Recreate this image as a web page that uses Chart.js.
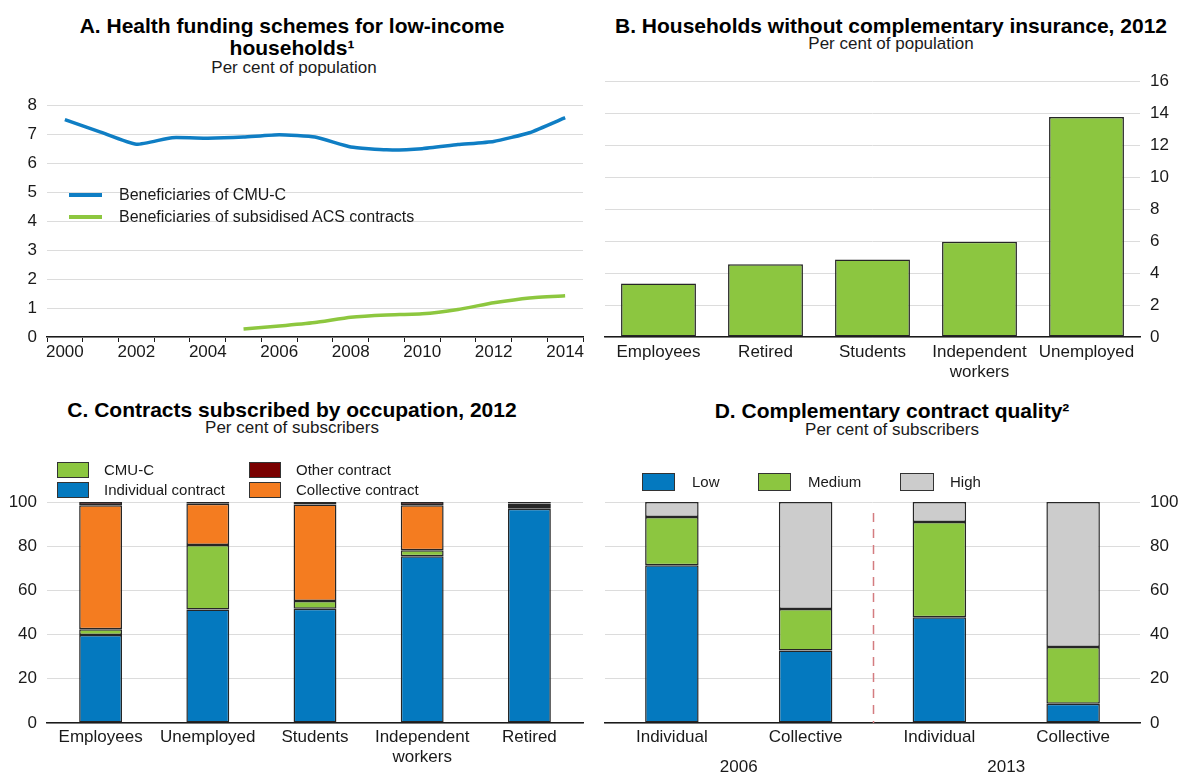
<!doctype html>
<html lang="en">
<head>
<meta charset="utf-8">
<title>Complementary health insurance</title>
<script src="https://cdn.jsdelivr.net/npm/chart.js@4"></script>
<style>
  body { margin: 0; background: #fff; font-family: "Liberation Sans", Arial, sans-serif; color: #111; }
  #page { position: relative; width: 1181px; height: 774px; overflow: hidden; }
  .title { position: absolute; text-align: center; font-weight: bold; font-size: 21px; line-height: 22px; color: #000; }
  .sub { position: absolute; text-align: center; font-size: 17px; line-height: 20px; color: #1a1a1a; }
  canvas { position: absolute; }
  .leg { position: absolute; white-space: nowrap; color: #1a1a1a; }
  .sw { position: absolute; box-sizing: border-box; border: 1px solid #333; }
  .ln { position: absolute; height: 4px; }
</style>
</head>
<body>
<div id="page">
  <div class="title" style="left:0; top:15px; width:584px;">A. Health funding schemes for low-income<br>households¹</div>
  <div class="sub" style="left:0; top:58px; width:588px;">Per cent of population</div>

  <div class="title" style="left:600px; top:15px; width:582px;">B. Households without complementary insurance, 2012</div>
  <div class="sub" style="left:600px; top:34px; width:582px;">Per cent of population</div>

  <div class="title" style="left:0; top:399px; width:584px;">C. Contracts subscribed by occupation, 2012</div>
  <div class="sub" style="left:0; top:418px; width:584px;">Per cent of subscribers</div>

  <div class="title" style="left:600px; top:400px; width:584px;">D. Complementary contract quality²</div>
  <div class="sub" style="left:600px; top:420px; width:584px;">Per cent of subscribers</div>

  <canvas id="chartA" width="600" height="300" style="left:0; top:85px;"></canvas>
  <canvas id="chartB" width="591" height="330" style="left:590px; top:60px;"></canvas>
  <canvas id="chartC" width="600" height="329" style="left:0; top:445px;"></canvas>
  <canvas id="chartD" width="591" height="329" style="left:590px; top:445px;"></canvas>
  <div id="legends"></div>
</div>

<script>
// A. CMU-C and ACS beneficiaries, per cent of population
const years = ['2000', '2001', '2002', '2003', '2004', '2005', '2006', '2007',
  '2008', '2009', '2010', '2011', '2012', '2013', '2014'];
const cmucShare = [7.5, 7.07, 6.65, 6.88, 6.86, 6.9, 6.98, 6.9, 6.56, 6.46, 6.5, 6.64, 6.75, 7.05, 7.57];
const acsShare = [null, null, null, null, null, 0.28, 0.38, 0.5, 0.68, 0.76, 0.8, 0.95, 1.18, 1.35, 1.42];

// B. households without complementary insurance, 2012
const occupationsB = ['Employees', 'Retired', 'Students', ['Independent', 'workers'], 'Unemployed'];
const noInsurance = [3.35, 4.55, 4.85, 5.95, 13.75];

// C. contracts subscribed by occupation, 2012
const occupationsC = ['Employees', 'Unemployed', 'Students', ['Independent', 'workers'], 'Retired'];
const individualContract = [39.8, 51.4, 51.7, 75.5, 97.0];
const cmucContract = [2.6, 29.1, 3.5, 2.7, 1.2];
const collectiveContract = [56.1, 18.7, 43.7, 20.3, 1.1];
const otherContract = [1.5, 0.8, 1.1, 1.5, 0.7];

// D. contract quality by contract type
const contractTypes = ['Individual', 'Collective', 'Individual', 'Collective'];
const surveyYears = ['2006', '2013'];
const lowQuality = [71.4, 32.8, 47.8, 8.7];
const mediumQuality = [21.8, 18.8, 43.2, 25.7];
const highQuality = [6.8, 48.4, 9.0, 65.6];

const BLUE = '#0479BF';
const GREEN = '#8CC640';
const ORANGE = '#F47C20';
const DARKRED = '#7A0000';
const GREY = '#CCCCCC';
const LINE_BLUE = '#0F7EC4';
const LINE_GREEN = '#8DC73F';
const OUTLINE = '#262626';
const GRID = '#DCDCDC';
const AXIS = '#1a1a1a';

Chart.defaults.font.family = '"Liberation Sans", Arial, sans-serif';
Chart.defaults.font.size = 17;
Chart.defaults.color = '#1a1a1a';
Chart.defaults.animation = false;
Chart.defaults.plugins.legend.display = false;
Chart.defaults.plugins.tooltip.enabled = false;

const fixHeight = h => s => { s.height = h; };
const fixWidth = w => s => { s.width = w; };

function bars(label, data, color, pct) {
  return {
    label, data, backgroundColor: color, borderColor: OUTLINE, borderWidth: 1.5,
    borderSkipped: false, categoryPercentage: 1, barPercentage: pct
  };
}

function valueAxis(max, step, position, width) {
  return {
    position, min: 0, max,
    ticks: { stepSize: step, padding: 10 },
    grid: { color: GRID, drawTicks: false },
    border: { display: false },
    afterFit: fixWidth(width)
  };
}

function categoryAxis(height, padding) {
  return {
    grid: { display: false, drawTicks: false },
    border: { color: AXIS, width: 1.5 },
    ticks: { padding, autoSkip: false, maxRotation: 0 },
    afterFit: fixHeight(height)
  };
}

// A
new Chart(document.getElementById('chartA'), {
  type: 'line',
  data: {
    labels: years,
    datasets: [
      { label: 'Beneficiaries of CMU-C', data: cmucShare, borderColor: LINE_BLUE, borderWidth: 3.5, pointRadius: 0, tension: 0.15 },
      { label: 'Beneficiaries of subsidised ACS contracts', data: acsShare, borderColor: LINE_GREEN, borderWidth: 3.5, pointRadius: 0, tension: 0.15 }
    ]
  },
  options: {
    responsive: false,
    layout: { padding: { top: 12, right: 17 } },
    scales: {
      x: {
        offset: true,
        grid: { offset: true, drawOnChartArea: false, color: AXIS, tickLength: 5 },
        border: { color: AXIS, width: 1.5 },
        ticks: { padding: 0, autoSkip: false, maxRotation: 0, callback: (v, i) => (i % 2 ? '' : years[i]) },
        afterFit: fixHeight(48)
      },
      y: valueAxis(8, 1, 'left', 47)
    }
  }
});

// B
new Chart(document.getElementById('chartB'), {
  type: 'bar',
  data: { labels: occupationsB, datasets: [bars('Without complementary insurance', noInsurance, GREEN, 0.7)] },
  options: {
    responsive: false,
    layout: { padding: { left: 15, top: 21 } },
    scales: { x: categoryAxis(53, 5), y: valueAxis(16, 2, 'right', 41) }
  }
});

// C
new Chart(document.getElementById('chartC'), {
  type: 'bar',
  data: {
    labels: occupationsC,
    datasets: [
      bars('Individual contract', individualContract, BLUE, 0.4),
      bars('CMU-C', cmucContract, GREEN, 0.4),
      bars('Collective contract', collectiveContract, ORANGE, 0.4),
      bars('Other contract', otherContract, DARKRED, 0.4)
    ]
  },
  options: {
    responsive: false,
    layout: { padding: { top: 57, right: 17 } },
    scales: {
      x: Object.assign(categoryAxis(51, 4), { stacked: true }),
      y: Object.assign(valueAxis(100, 20, 'left', 47), { stacked: true })
    }
  }
});

// dashed separator between the two survey years
const periodDivider = {
  id: 'periodDivider',
  afterDatasetsDraw(chart) {
    const { ctx, scales: { x, y } } = chart;
    const px = Math.round(x.getPixelForValue(1.5)) + 0.5;
    ctx.save();
    ctx.strokeStyle = '#D47C80';
    ctx.lineWidth = 1.5;
    ctx.setLineDash([9, 7]);
    ctx.beginPath();
    ctx.moveTo(px, y.getPixelForValue(95));
    ctx.lineTo(px, y.getPixelForValue(0));
    ctx.stroke();
    ctx.restore();
  }
};

// D
new Chart(document.getElementById('chartD'), {
  type: 'bar',
  data: {
    labels: contractTypes,
    datasets: [
      bars('Low', lowQuality, BLUE, 0.4),
      bars('Medium', mediumQuality, GREEN, 0.4),
      bars('High', highQuality, GREY, 0.4)
    ]
  },
  options: {
    responsive: false,
    layout: { padding: { left: 15, top: 57 } },
    scales: {
      x: Object.assign(categoryAxis(26, 4), { stacked: true, weight: 0 }),
      years: {
        type: 'category', labels: surveyYears, position: 'bottom', offset: true, weight: 1,
        grid: { display: false, drawTicks: false }, border: { display: false },
        ticks: { padding: 8, maxRotation: 0 }, afterFit: fixHeight(25)
      },
      y: Object.assign(valueAxis(100, 20, 'right', 41), { stacked: true })
    }
  },
  plugins: [periodDivider]
});

// legends
const legendBox = document.getElementById('legends');
function addText(text, left, top, size) {
  const el = document.createElement('div');
  el.className = 'leg';
  el.style.cssText = `left:${left}px; top:${top}px; font-size:${size}px; line-height:20px;`;
  el.textContent = text;
  legendBox.appendChild(el);
}
function addSwatch(color, left, top, w, h) {
  const el = document.createElement('div');
  el.className = 'sw';
  el.style.cssText = `left:${left}px; top:${top}px; width:${w}px; height:${h}px; background:${color};`;
  legendBox.appendChild(el);
}
function addLine(color, left, top) {
  const el = document.createElement('div');
  el.className = 'ln';
  el.style.cssText = `left:${left}px; top:${top}px; width:33px; background:${color};`;
  legendBox.appendChild(el);
}

addLine(LINE_BLUE, 69, 193);
addText('Beneficiaries of CMU-C', 119, 185, 16);
addLine(LINE_GREEN, 69, 215);
addText('Beneficiaries of subsidised ACS contracts', 119, 207, 16);

addSwatch(GREEN, 57, 462, 32, 16);
addText('CMU-C', 104, 460, 15);
addSwatch(DARKRED, 249, 462, 32, 16);
addText('Other contract', 296, 460, 15);
addSwatch(BLUE, 57, 482, 32, 16);
addText('Individual contract', 104, 480, 15);
addSwatch(ORANGE, 249, 482, 32, 16);
addText('Collective contract', 296, 480, 15);

addSwatch(BLUE, 642, 473, 33, 18);
addText('Low', 692, 472, 15);
addSwatch(GREEN, 758, 473, 33, 18);
addText('Medium', 808, 472, 15);
addSwatch(GREY, 900, 473, 34, 18);
addText('High', 950, 472, 15);
</script>
</body>
</html>
